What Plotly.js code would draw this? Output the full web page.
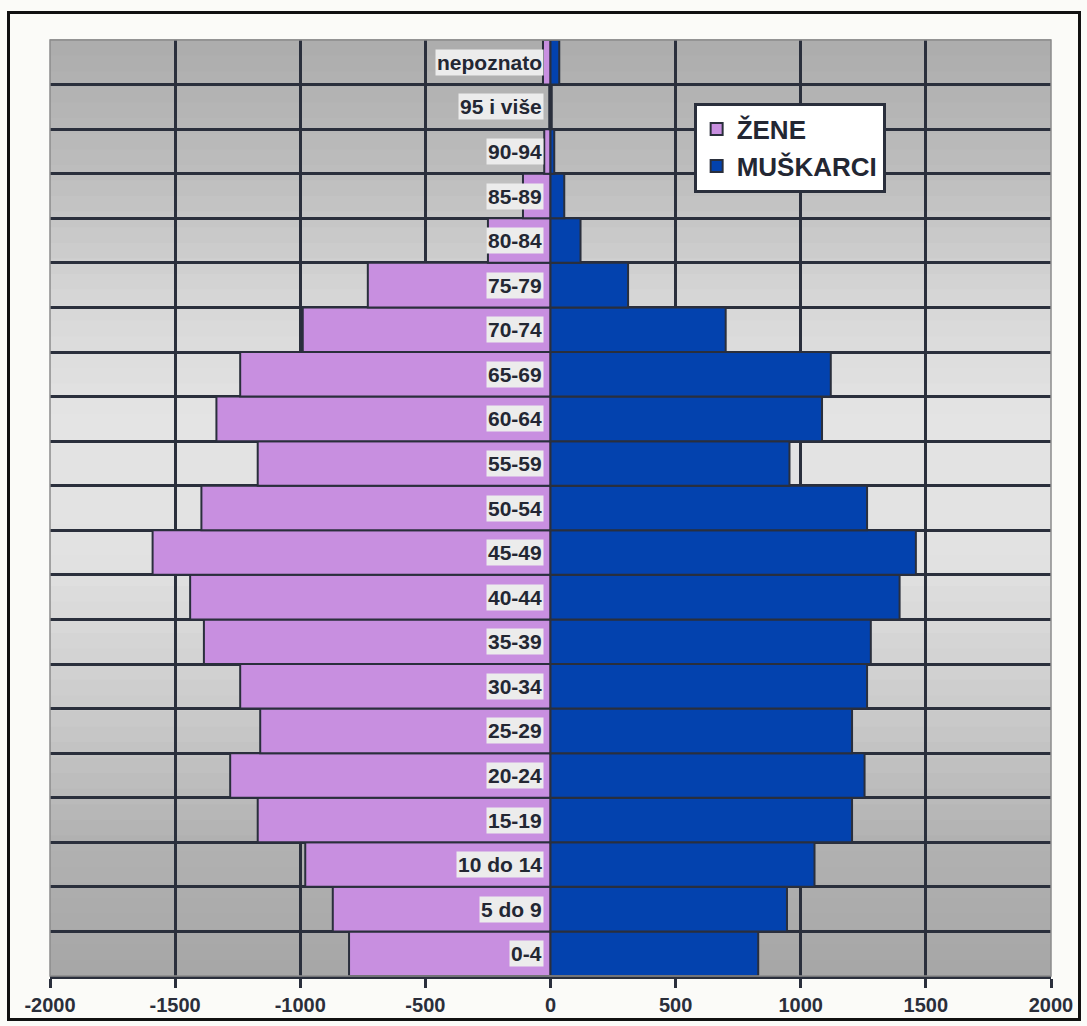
<!DOCTYPE html>
<html>
<head>
<meta charset="utf-8">
<script src="https://cdn.plot.ly/plotly-3.0.1.min.js"></script>
<style>
  html, body { margin: 0; padding: 0; background: #fbfbf8; }
  #wrap { position: relative; width: 1087px; height: 1026px; }
  #chart { position: absolute; left: 0; top: 0; width: 1087px; height: 1026px; }
  #frame { position: absolute; left: 7px; top: 11px; width: 1074px; height: 1010px;
           border: 3px solid #111; pointer-events: none; box-sizing: border-box; }
</style>
</head>
<body>
<div id="wrap">
  <div id="chart"></div>
  <div id="frame"></div>
</div>
<script>
// Age groups, bottom to top
const ageGroups = ["0-4", "5 do 9", "10 do 14", "15-19", "20-24", "25-29", "30-34",
  "35-39", "40-44", "45-49", "50-54", "55-59", "60-64", "65-69", "70-74",
  "75-79", "80-84", "85-89", "90-94", "95 i više", "nepoznato"];

// Women (plotted to the left, negative)
const zene = [-805, -870, -980, -1170, -1280, -1160, -1240,
  -1385, -1440, -1590, -1395, -1170, -1335, -1240, -990,
  -730, -250, -110, -25, -5, -30];

// Men (plotted to the right)
const muskarci = [830, 945, 1055, 1205, 1255, 1205, 1265,
  1280, 1395, 1460, 1265, 955, 1085, 1120, 700,
  310, 120, 55, 15, 5, 35];

const xTicks = [-2000, -1500, -1000, -500, 0, 500, 1000, 1500, 2000];

const womenColor = "#c88fe0";
const menColor = "#0342ae";
const darkLine = "#2a2f3c";
const fontFam = "Liberation Sans, Arial, sans-serif";

const traces = [
  {
    type: "bar", orientation: "h", name: "ŽENE",
    y: ageGroups, x: zene, legendgroup: "z",
    marker: { color: womenColor, line: { color: darkLine, width: 2 } },
    hovertemplate: "%{y}: %{x}<extra>ŽENE</extra>"
  },
  {
    type: "bar", orientation: "h", name: "MUŠKARCI",
    y: ageGroups, x: muskarci, legendgroup: "m",
    marker: { color: menColor, line: { color: darkLine, width: 2 } },
    hovertemplate: "%{y}: %{x}<extra>MUŠKARCI</extra>"
  }
];

// Background gradient strips (style only)
function bgShade(t) {
  const stops = [[0, 166], [0.15, 178], [0.3, 205], [0.45, 226], [0.6, 228], [0.72, 215], [0.85, 190], [1, 172]];
  for (let i = 1; i < stops.length; i++) {
    if (t <= stops[i][0]) {
      const a = stops[i - 1], b = stops[i];
      const f = (t - a[0]) / (b[0] - a[0]);
      return Math.round(a[1] + f * (b[1] - a[1]));
    }
  }
  return stops[stops.length - 1][1];
}
const shapes = [];
const nStrips = 60;
for (let i = 0; i < nStrips; i++) {
  const v = bgShade((i + 0.5) / nStrips);
  shapes.push({
    type: "rect", xref: "paper", yref: "paper", layer: "below",
    x0: 0, x1: 1, y0: i / nStrips, y1: (i + 1) / nStrips + 0.001,
    fillcolor: `rgb(${v},${v},${v})`, line: { width: 0 }
  });
}
shapes.push({
  type: "rect", xref: "paper", yref: "paper", layer: "above",
  x0: 0, x1: 1, y0: 0, y1: 1, line: { color: "#8c8c8c", width: 1.5 }
});

const annotations = ageGroups.map(g => ({
  x: 0, y: g, xref: "x", yref: "y", text: g, showarrow: false,
  xanchor: "right", yanchor: "middle", xshift: -7,
  font: { family: fontFam, size: 21, color: "#232733", weight: "bold" },
  bgcolor: "#ececec", borderpad: 1
}));

const layout = {
  width: 1087, height: 1026,
  paper_bgcolor: "rgba(0,0,0,0)",
  plot_bgcolor: "#cfcfcf",
  margin: { l: 50, r: 36, t: 40, b: 50 },
  barmode: "overlay", bargap: 0,
  showlegend: true,
  legend: {
    x: 0.643, y: 0.933, xanchor: "left", yanchor: "top",
    bgcolor: "#ffffff", bordercolor: darkLine, borderwidth: 3,
    font: { family: fontFam, size: 26, color: "#232733", weight: "bold" },
    traceorder: "normal", tracegroupgap: 8, itemwidth: 30
  },
  xaxis: {
    range: [-2000, 2000], tickvals: xTicks, ticktext: xTicks.map(String),
    showgrid: true, gridcolor: darkLine, gridwidth: 3,
    zeroline: false,
    showline: true, linecolor: darkLine, linewidth: 3,
    ticks: "outside", ticklen: 9, tickwidth: 3, tickcolor: darkLine,
    tickfont: { family: fontFam, size: 20, color: "#2a2e3a", weight: "bold" },
    fixedrange: true
  },
  yaxis: {
    type: "category", categoryorder: "array", categoryarray: ageGroups,
    showticklabels: false, ticks: "",
    tickson: "boundaries", showgrid: true, gridcolor: darkLine, gridwidth: 3,
    zeroline: false, showline: false, fixedrange: true
  },
  shapes: shapes,
  annotations: annotations
};

Plotly.newPlot("chart", traces, layout, { displayModeBar: false, staticPlot: true });
</script>
</body>
</html>
